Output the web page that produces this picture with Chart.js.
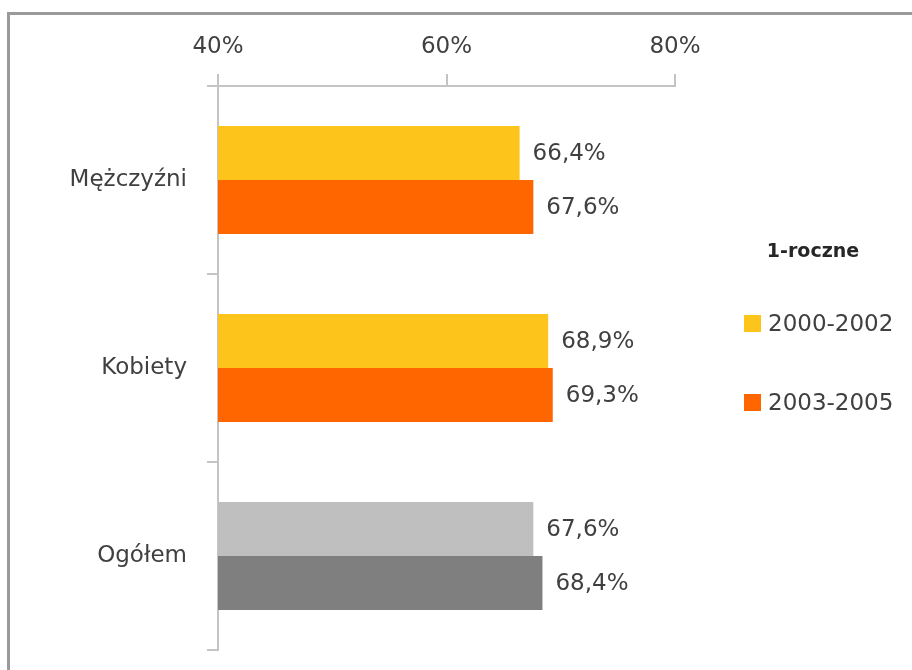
<!DOCTYPE html>
<html>
<head>
<meta charset="utf-8">
<script src="https://cdn.jsdelivr.net/npm/chart.js@4"></script>
<style>
  html, body { margin: 0; padding: 0; background: #fff; overflow: hidden; }
  #frame {
    position: absolute; left: 7px; top: 12px; width: 1200px; height: 1200px;
    border-left: 3px solid #9a9a9a; border-top: 3px solid #9a9a9a;
  }
  #myChart { position: absolute; left: 0; top: 0; }
</style>
</head>
<body>
<div id="frame"></div>
<canvas id="myChart" width="912" height="670"></canvas>
<script>
const labels = ['Mężczyźni', 'Kobiety', 'Ogółem'];
const series = ['2000-2002', '2003-2005'];
const values2000 = [66.4, 68.9, 67.6];
const values2003 = [67.6, 69.3, 68.4];
const xTicks = [40, 60, 80];
const legendTitle = '1-roczne';

// last row (Ogółem) is drawn in greys
const colors2000 = ['#FDC41B', '#FDC41B', '#BFBFBF'];
const colors2003 = ['#FF6600', '#FF6600', '#7F7F7F'];

const FONT = 'DejaVu Sans';
const TEXT = '#404040';

const fmt = v => v.toFixed(1).replace('.', ',') + '%';

// value labels next to the bar ends
const barLabels = {
  id: 'barLabels',
  afterDatasetsDraw(chart) {
    const ctx = chart.ctx;
    ctx.save();
    ctx.font = '23px "' + FONT + '"';
    ctx.fillStyle = TEXT;
    ctx.textAlign = 'left';
    ctx.textBaseline = 'middle';
    chart.data.datasets.forEach((ds, i) => {
      chart.getDatasetMeta(i).data.forEach((bar, j) => {
        ctx.fillText(fmt(ds.data[j]), bar.x + 13, bar.y + 1);
      });
    });
    ctx.restore();
  }
};

// legend on the right with its title
const sideLegend = {
  id: 'sideLegend',
  afterDraw(chart) {
    const ctx = chart.ctx;
    ctx.save();
    ctx.fillStyle = '#262626';
    ctx.font = 'bold 19px "' + FONT + '"';
    ctx.textAlign = 'center';
    ctx.textBaseline = 'middle';
    ctx.fillText(legendTitle, 813, 252);
    const rows = [324, 403];
    ctx.font = '23px "' + FONT + '"';
    ctx.textAlign = 'left';
    chart.data.datasets.forEach((ds, i) => {
      const y = rows[i];
      ctx.fillStyle = ds.backgroundColor[0];
      ctx.fillRect(744, y - 9, 17, 17);
      ctx.fillStyle = TEXT;
      ctx.fillText(ds.label, 768, y + 1);
    });
    ctx.restore();
  }
};

const data = {
  labels: labels,
  datasets: [
    { label: series[0], data: values2000, backgroundColor: colors2000 },
    { label: series[1], data: values2003, backgroundColor: colors2003 }
  ]
};

const config = {
  type: 'bar',
  data: data,
  options: {
    indexAxis: 'y',
    responsive: false,
    animation: false,
    devicePixelRatio: 1,
    categoryPercentage: 0.575,
    barPercentage: 1,
    layout: { padding: { left: 0, top: 0, right: 237, bottom: 20 } },
    plugins: { legend: { display: false }, tooltip: { enabled: false } },
    scales: {
      x: {
        position: 'top',
        min: 40,
        max: 80,
        afterBuildTicks: s => { s.ticks = xTicks.map(v => ({ value: v })); },
        afterFit: s => { s.height = 86; },
        ticks: {
          callback: v => v + '%',
          font: { family: FONT, size: 23 },
          color: TEXT,
          padding: 13
        },
        grid: { drawOnChartArea: false, tickLength: 12, color: '#c4c4c4', lineWidth: 2 },
        border: { color: '#c4c4c4', width: 2 }
      },
      y: {
        afterFit: s => {
          s.width = 218;
          s.paddingTop = 0;
          s.paddingBottom = 0;
        },
        ticks: {
          font: { family: FONT, size: 23 },
          color: TEXT,
          padding: 20
        },
        grid: { drawOnChartArea: false, tickLength: 11, color: '#c4c4c4', lineWidth: 2 },
        border: { color: '#c4c4c4', width: 2 }
      }
    }
  },
  plugins: [barLabels, sideLegend]
};

const myChart = new Chart(document.getElementById('myChart'), config);
</script>
</body>
</html>
